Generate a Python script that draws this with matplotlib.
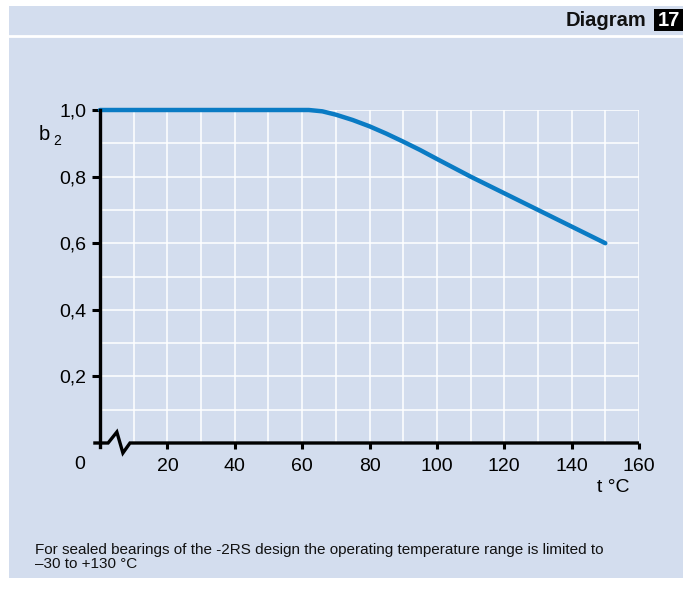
import matplotlib
matplotlib.use("Agg")
import matplotlib.pyplot as plt
from matplotlib.patches import Rectangle

# ---- data ----
temps = [0, 62, 66, 70, 75, 80, 85, 90, 95, 100, 110, 120, 130, 140, 150]
b2 = [1.0, 1.0, 0.996, 0.986, 0.970, 0.951, 0.929, 0.905, 0.880, 0.853, 0.80, 0.75, 0.70, 0.65, 0.60]
x_ticks = [20, 40, 60, 80, 100, 120, 140, 160]
y_ticks = [0.2, 0.4, 0.6, 0.8, 1.0]
y_tick_labels = ["0,2", "0,4", "0,6", "0,8", "1,0"]
x_grid = list(range(10, 161, 10))
y_grid = [0.1, 0.2, 0.3, 0.4, 0.5, 0.6, 0.7, 0.8, 0.9, 1.0]
footnote_lines = ["For sealed bearings of the -2RS design the operating temperature range is limited to",
                  "\u201330 to +130 \u00b0C"]

W, H = 683, 593
plt.rcParams['font.family'] = ['Liberation Sans', 'DejaVu Sans']
fig = plt.figure(figsize=(W / 100, H / 100), dpi=100)
fig.patch.set_facecolor('white')

panel = '#d3ddee'
def fx(px):
    return px / W
def fy(py):
    return 1 - py / H

bg = Rectangle((fx(9), fy(578)), fx(683) - fx(9), fy(6) - fy(578),
               transform=fig.transFigure, facecolor=panel, edgecolor='none', zorder=-10)
fig.add_artist(bg)
# white rule under header
fig.add_artist(plt.Line2D([fx(9), 1], [fy(36), fy(36)], transform=fig.transFigure,
                          color='white', lw=2, zorder=-5))
# header
fig.text(fx(646), fy(20), "Diagram", ha='right', va='center', fontsize=14.5, fontweight='bold', color='#111111')
fig.add_artist(Rectangle((fx(654), fy(31)), fx(683) - fx(654), fy(9) - fy(31),
                         transform=fig.transFigure, facecolor='black', edgecolor='none', zorder=1))
fig.text(fx(669), fy(20), "17", ha='center', va='center', fontsize=14.5, fontweight='bold', color='white', zorder=2)

# axes
ax = fig.add_axes([fx(100), fy(443), (639 - 100) / W, (443 - 110) / H])
ax.set_zorder(3)
ax.set_facecolor('none')
ax.set_xlim(0, 160)
ax.set_ylim(0, 1)
for s in ['top', 'right', 'bottom']:
    ax.spines[s].set_visible(False)
ax.spines['left'].set_linewidth(2.4)
ax.spines['left'].set_bounds(-0.012, 1.0)
ax.spines['left'].set_zorder(5)

# grid
ax.vlines(x_grid, 0, 1, colors='white', lw=1.1, zorder=1)
ax.hlines(y_grid, 0, 160, colors='white', lw=1.1, zorder=1)

# x axis with break
ax.plot([-2, 2.4, 5.0, 6.8, 8.9, 160], [0, 0, 0.033, -0.03, 0, 0], color='black', lw=2.4,
        clip_on=False, zorder=5, solid_joinstyle='miter', solid_capstyle='butt')

ax.set_xticks(x_ticks)
ax.set_xticklabels([str(v) for v in x_ticks])
ax.set_yticks(y_ticks)
ax.set_yticklabels(y_tick_labels)
ax.tick_params(axis='x', direction='out', length=4, width=2.2, labelsize=14, pad=7, color='black')
ax.tick_params(axis='y', direction='out', length=6, width=2.2, labelsize=14, pad=4, color='black')
ax.text(-6, -0.065, "0", ha='center', va='center', fontsize=14)
ax.text(152.5, -0.135, "t \u00b0C", ha='center', va='center', fontsize=14)
ax.text(fx(44), fy(134), "b", transform=fig.transFigure, ha='center', va='center', fontsize=14.5)
ax.text(fx(57), fy(141), "2", transform=fig.transFigure, ha='center', va='center', fontsize=10)

# curve
ax.plot(temps, b2, color='#0a7bc4', lw=3.2, solid_capstyle='round', zorder=4, clip_on=False)

fig.text(fx(35), fy(550), footnote_lines[0], ha='left', va='center', fontsize=11, color='#111111')
fig.text(fx(35), fy(564), footnote_lines[1], ha='left', va='center', fontsize=11, color='#111111')

fig.savefig('out.png', dpi=100, facecolor=fig.get_facecolor())
